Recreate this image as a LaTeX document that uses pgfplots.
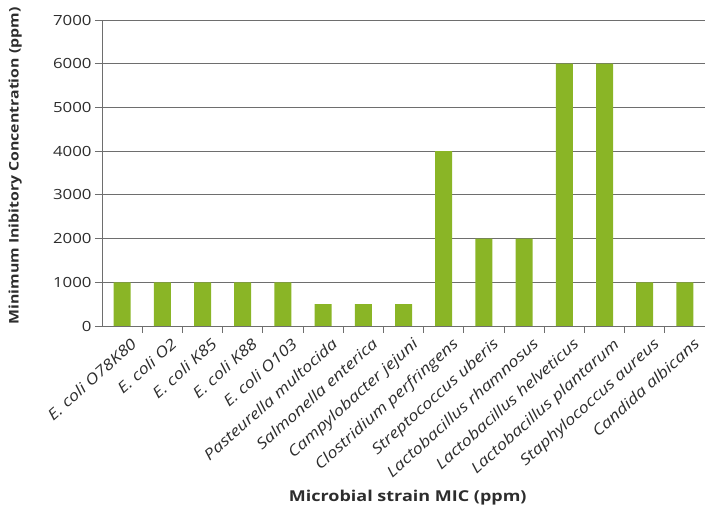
\documentclass[border=0pt]{standalone}
\usepackage{fontspec}
\setmainfont{Open Sans}[FakeStretch=1.2]
\usepackage{pgfplots}
\pgfplotsset{compat=1.18}
\definecolor{barc}{RGB}{138,181,38}
\definecolor{gridc}{RGB}{110,110,110}
\definecolor{txt}{RGB}{45,45,45}
\begin{document}
\begin{tikzpicture}
\begin{axis}[
  at={(0,0)}, anchor=origin,
  scale only axis, width=603pt, height=306pt,
  xmin=-0.5, xmax=14.5, ymin=0, ymax=7000,
  axis x line*=bottom, axis y line*=left,
  axis line style={gridc, line width=0.9pt},
  ytick={0,1000,...,7000},
  ymajorgrids, grid style={gridc, line width=0.9pt},
  tick align=outside, major tick length=7pt,
  every tick/.style={gridc, line width=0.9pt},
  xtick={0.5,1.5,...,13.5}, xticklabels={},
  extra x ticks={0,1,...,14},
  extra x tick style={major tick length=0pt, grid=none},
  extra x tick labels={E. coli O78K80, E. coli O2, E. coli K85, E. coli K88, E. coli O103, Pasteurella multocida, Salmonella enterica, Campylobacter jejuni, Clostridium perfringens, Streptococcus uberis, Lactobacillus rhamnosus, Lactobacillus helveticus, Lactobacillus plantarum, Staphylococcus aureus, Candida albicans},
  x tick label style={xshift=8pt, yshift=-8pt, rotate=42, anchor=north east, inner sep=2pt, font=\itshape\fontsize{15}{15}\selectfont, text=txt},
  y tick label style={font=\fontsize{14}{14}\selectfont, text=txt},
  /pgf/number format/assume math mode=true,
  /pgf/number format/1000 sep={},
  ylabel={Minimum Inibitory Concentration (ppm)},
  ylabel style={at={(axis description cs:-0.144,0.523)}, anchor=center, font=\bfseries\fontsize{13.2}{13.2}\selectfont, text=txt},
  xlabel={Microbial strain MIC (ppm)},
  xlabel style={at={(axis description cs:0.507,-0.56)}, anchor=center, font=\bfseries\fontsize{15}{15}\selectfont, text=txt},
  clip=false,
]
\addplot[ybar, bar width=17pt, fill=barc, draw=none] coordinates {
(0,1000) (1,1000) (2,1000) (3,1000) (4,1000) (5,500) (6,500) (7,500)
(8,4000) (9,2000) (10,2000) (11,6000) (12,6000) (13,1000) (14,1000)};
\coordinate (sw) at (rel axis cs:0,0);
\coordinate (ne) at (rel axis cs:1,1);
\end{axis}
\pgfresetboundingbox
\path (sw) ++(-102pt,-181pt) coordinate (bl);
\path (ne) ++(3pt,20pt) coordinate (tr);
\path[use as bounding box] (bl) rectangle (tr);
\end{tikzpicture}
\end{document}
